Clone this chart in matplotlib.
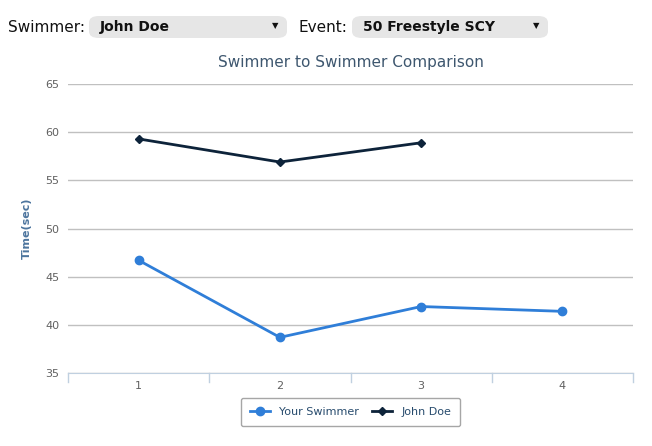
import matplotlib
matplotlib.use("Agg")
import matplotlib.pyplot as plt
from matplotlib.patches import FancyBboxPatch

categories = [1, 2, 3, 4]
your_swimmer = [46.7, 38.7, 41.9, 41.4]
john_doe = [59.3, 56.9, 58.9]
y_ticks = [35, 40, 45, 50, 55, 60, 65]

W, H = 652, 446
fig = plt.figure(figsize=(W/100, H/100), dpi=100)
fig.patch.set_facecolor("white")

def fx(x): return x / W
def fy(y): return 1 - y / H

# Top controls
fig.text(fx(8), fy(27), "Swimmer:", fontsize=11, va="center", ha="left", color="#111")
fig.text(fx(298), fy(27), "Event:", fontsize=11, va="center", ha="left", color="#111")
for x0, x1, label in [(89, 287, "John Doe"), (352, 548, "50 Freestyle SCY")]:
    p = FancyBboxPatch((fx(x0), fy(38)), fx(x1 - x0), 22/H,
                       boxstyle="round,pad=0,rounding_size=0.015",
                       transform=fig.transFigure, facecolor="#e6e6e6", edgecolor="none")
    fig.patches.append(p)
    fig.text(fx(x0 + 11), fy(27), label, fontsize=10, fontweight="bold", va="center", color="#111")
    fig.text(fx(x1 - 12), fy(26), "\u25BC", fontsize=6, va="center", ha="center", color="#111")

ax = fig.add_axes([fx(68), fy(373), fx(633 - 68), (373 - 84)/H])
ax.plot(categories, your_swimmer, color="#2f7ed8", marker="o", markersize=6, lw=2, label="Your Swimmer")
ax.plot(categories[:len(john_doe)], john_doe, color="#0d233a", marker="D", markersize=4.5, lw=2, label="John Doe")

ax.set_xlim(0.5, 4.5)
ax.set_ylim(35, 65)
ax.set_yticks(y_ticks)
ax.set_xticks(categories)
ax.grid(axis="y", color="#c0c0c0", lw=1)
ax.set_axisbelow(True)
for s in ["top", "right", "left"]:
    ax.spines[s].set_visible(False)
ax.spines["bottom"].set_color("#c0d0e0")
ax.tick_params(axis="y", length=0, labelsize=8, colors="#606060", pad=6)
ax.tick_params(axis="x", length=0, labelsize=8, colors="#606060", pad=6)
for xb in [0.5, 1.5, 2.5, 3.5, 4.5]:
    ax.plot([xb, xb], [35, 35 - 0.9], color="#c0d0e0", lw=1, clip_on=False)
ax.set_ylabel("Time(sec)", fontsize=8, color="#4d759e", fontweight="bold", labelpad=10)
ax.set_title("Swimmer to Swimmer Comparison", fontsize=11, color="#3e576f", pad=12)

leg = ax.legend(loc="upper center", bbox_to_anchor=(0.5, -0.075), ncol=2, fontsize=8,
                frameon=True, fancybox=True, handlelength=1.8, columnspacing=1.2,
                borderpad=0.8, borderaxespad=0.3)
leg.get_frame().set_edgecolor("#909090")
for t in leg.get_texts():
    t.set_color("#274b6d")

fig.savefig("out.png", dpi=100)
